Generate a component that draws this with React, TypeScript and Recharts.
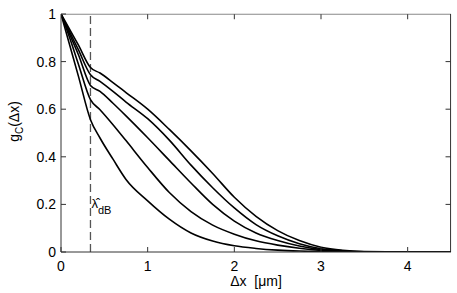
import React from "react";
import {
  LineChart,
  Line,
  XAxis,
  YAxis,
  ReferenceLine,
  ReferenceDot,
} from "recharts";

const xs = [0, 0.1, 0.2, 0.34, 0.45, 0.6, 0.75, 1.0, 1.25, 1.5, 1.75, 2.0, 2.25, 2.5, 2.75, 3.0, 3.25, 3.5, 4.0, 4.5];

const curve1 = [1, 0.935, 0.87, 0.775, 0.752, 0.712, 0.67, 0.6, 0.515, 0.425, 0.33, 0.23, 0.15, 0.09, 0.048, 0.02, 0.007, 0.002, 0, 0];
const curve2 = [1, 0.925, 0.85, 0.745, 0.717, 0.675, 0.63, 0.56, 0.47, 0.365, 0.27, 0.185, 0.115, 0.068, 0.035, 0.014, 0.005, 0.001, 0, 0];
const curve3 = [1, 0.915, 0.83, 0.7, 0.675, 0.625, 0.572, 0.48, 0.385, 0.29, 0.2, 0.13, 0.08, 0.048, 0.025, 0.01, 0.003, 0.001, 0, 0];
const curve4 = [1, 0.9, 0.79, 0.64, 0.598, 0.535, 0.468, 0.355, 0.25, 0.17, 0.113, 0.075, 0.047, 0.029, 0.016, 0.007, 0.002, 0.0005, 0, 0];
const curve5 = [1, 0.87, 0.74, 0.556, 0.479, 0.39, 0.305, 0.215, 0.138, 0.08, 0.046, 0.026, 0.015, 0.008, 0.004, 0.002, 0.001, 0, 0, 0];

const xTicks = [0, 1, 2, 3, 4];
const yTicks = [0, 0.2, 0.4, 0.6, 0.8, 1];
const yTickLabels = ["0", "0.2", "0.4", "0.6", "0.8", "1"];
const lambdaX = 0.34;
const xMax = 4.5;
const yMax = 1;

const series = [curve1, curve2, curve3, curve4, curve5].map((c) =>
  xs.map((x, i) => ({ x, y: c[i] }))
);

const font = "'Liberation Sans', Arial, sans-serif";
const axisColor = "#333";
const boxColor = "#888";
// box edges sit just inside the domain so the reference lines are kept
const xEdge = 4.495;
const yEdge = 0.999;
// inward tick length in axis units (about 5px)
const tickLenX = 0.058;
const tickLenY = 0.021;

function BottomTick({ x, y, payload }: any) {
  return (
    <g>
      <line x1={x} y1={y} x2={x} y2={y - 5} stroke={axisColor} />
      <text x={x} y={y + 19} textAnchor="middle" fontSize={14} fontFamily={font} fill="#000">
        {payload.value}
      </text>
    </g>
  );
}

function LeftTick({ x, y, payload }: any) {
  const i = yTicks.indexOf(payload.value);
  return (
    <g>
      <line x1={x} y1={y} x2={x + 5} y2={y} stroke={axisColor} />
      <text x={x - 5} y={y + 5} textAnchor="end" fontSize={14} fontFamily={font} fill="#000">
        {i >= 0 ? yTickLabels[i] : payload.value}
      </text>
    </g>
  );
}

function LambdaLabel({ viewBox }: any) {
  const { x, y } = viewBox;
  return (
    <text x={x + 1} y={y + 4} fontSize={13} fontFamily={font} fill="#000">
      λ̂
      <tspan fontSize={11} dy={6}>dB</tspan>
    </text>
  );
}

export default function App() {
  return (
    <div style={{ position: "absolute", left: 0, top: 0, background: "#fff" }}>
      <LineChart
        width={457}
        height={293}
        margin={{ top: 14, right: 6, bottom: 0, left: 0 }}
      >
        <XAxis
          type="number"
          dataKey="x"
          domain={[0, xMax]}
          ticks={xTicks}
          allowDataOverflow
          height={41}
          stroke={axisColor}
          tickLine={false}
          tickSize={0}
          tickMargin={0}
          tick={<BottomTick />}
          interval={0}
          label={{
            value: "Δx\u00A0\u00A0[μm]",
            position: "insideBottom",
            offset: 7,
            fontSize: 14,
            fontFamily: font,
            fill: "#000",
            style: { fontSize: 14, fontFamily: font },
          }}
        />
        <YAxis
          type="number"
          domain={[0, yMax]}
          ticks={yTicks}
          allowDataOverflow
          width={61}
          stroke={axisColor}
          tickLine={false}
          tickSize={0}
          tickMargin={0}
          tick={<LeftTick />}
          interval={0}
          label={
            <text
              x={19}
              y={133}
              transform="rotate(-90 19 133)"
              textAnchor="middle"
              fontSize={14}
              fontFamily={font}
              fill="#000"
            >
              g<tspan fontSize={10} dy={4}>C</tspan>
              <tspan dy={-4}>(Δx)</tspan>
            </text>
          }
        />
        {/* top and right edges of the box, with inward ticks */}
        <ReferenceLine y={yEdge} stroke={boxColor} strokeWidth={1.2} />
        <ReferenceLine x={xEdge} stroke={axisColor} />
        {xTicks.slice(1).map((t) => (
          <ReferenceLine
            key={"tx" + t}
            segment={[
              { x: t, y: yEdge },
              { x: t, y: yEdge - tickLenY },
            ]}
            stroke={axisColor}
          />
        ))}
        {yTicks.slice(1, -1).map((t) => (
          <ReferenceLine
            key={"ty" + t}
            segment={[
              { x: xEdge, y: t },
              { x: xEdge - tickLenX, y: t },
            ]}
            stroke={axisColor}
          />
        ))}
        <ReferenceLine
          x={lambdaX}
          stroke="#555"
          strokeWidth={1.3}
          strokeDasharray="8 4"
        />
        <ReferenceDot
          x={lambdaX}
          y={0.2}
          r={0}
          fill="none"
          stroke="none"
          label={<LambdaLabel />}
        />
        {series.map((d, i) => (
          <Line
            key={i}
            data={d}
            dataKey="y"
            type="monotone"
            stroke="#000"
            strokeWidth={1.6}
            dot={false}
            isAnimationActive={false}
          />
        ))}
      </LineChart>
    </div>
  );
}
